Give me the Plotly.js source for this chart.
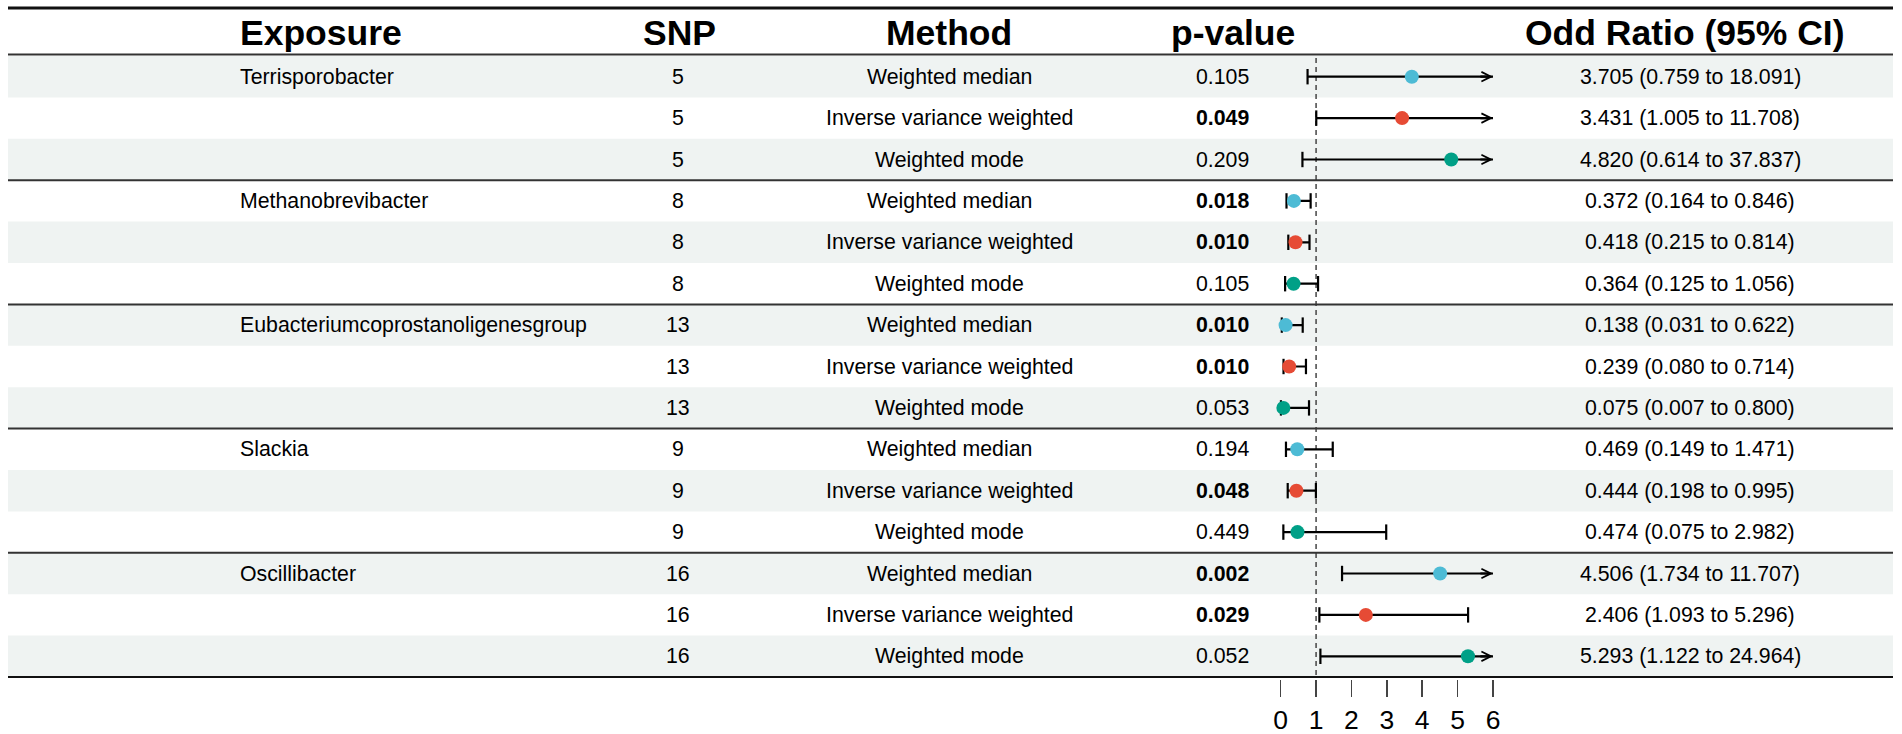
<!DOCTYPE html>
<html>
<head>
<meta charset="utf-8">
<script src="https://cdn.plot.ly/plotly-3.0.1.min.js"></script>
<style>html,body{margin:0;padding:0;background:#fff;}#chart{width:1902px;height:734px;}</style>
</head>
<body>
<div id="chart"></div>
<script>
// ---- data ----
const exposures = ["Terrisporobacter", "Methanobrevibacter", "Eubacteriumcoprostanoligenesgroup", "Slackia", "Oscillibacter"];
const methods = ["Weighted median", "Inverse variance weighted", "Weighted mode"];
const snps = [5, 5, 5, 8, 8, 8, 13, 13, 13, 9, 9, 9, 16, 16, 16];
const pvalues = [0.105, 0.049, 0.209, 0.018, 0.010, 0.105, 0.010, 0.010, 0.053, 0.194, 0.048, 0.449, 0.002, 0.029, 0.052];
const oddRatio = [3.705, 3.431, 4.820, 0.372, 0.418, 0.364, 0.138, 0.239, 0.075, 0.469, 0.444, 0.474, 4.506, 2.406, 5.293];
const ciLower = [0.759, 1.005, 0.614, 0.164, 0.215, 0.125, 0.031, 0.080, 0.007, 0.149, 0.198, 0.075, 1.734, 1.093, 1.122];
const ciUpper = [18.091, 11.708, 37.837, 0.846, 0.814, 1.056, 0.622, 0.714, 0.800, 1.471, 0.995, 2.982, 11.707, 5.296, 24.964];
const headers = ["Exposure", "SNP", "Method", "p-value", "Odd Ratio (95% CI)"];
const axisTicks = [0, 1, 2, 3, 4, 5, 6];
const methodColors = ["#4DBBD5", "#E64B35", "#00A087"];

// ---- layout constants ----
const W = 1902, H = 734;
const rowTop = 56, rowH = 41.4;
const xMax = 6;
const FONT = "Liberation Sans, Arial, Helvetica, sans-serif";
const px = v => v / W;               // pixel x -> paper
const py = v => 1 - v / H;           // pixel y -> paper
const yTopVal = (0 - rowTop) / rowH - 0.5;
const yBotVal = (H - rowTop) / rowH - 0.5;

const n = snps.length;
const rows = [...Array(n).keys()];
const methodOf = i => methods[i % 3];
const exposureOf = i => (i % 3 === 0 ? exposures[Math.floor(i / 3)] : "");

// ---- traces ----
const segX = [], segY = [];
rows.forEach(i => { segX.push(ciLower[i], Math.min(ciUpper[i], xMax), null); segY.push(i, i, null); });

const capX = [], capY = [];
rows.forEach(i => {
  capX.push(ciLower[i]); capY.push(i);
  if (ciUpper[i] <= xMax) { capX.push(ciUpper[i]); capY.push(i); }
});

const traces = [
  { type: "scatter", mode: "lines", x: segX, y: segY, line: { color: "#000", width: 2.2 }, cliponaxis: false, hoverinfo: "skip", showlegend: false },
  { type: "scatter", mode: "markers", x: capX, y: capY, marker: { symbol: "line-ns", size: 11, line: { color: "#000", width: 2.2 } }, cliponaxis: false, hoverinfo: "skip", showlegend: false },
  { type: "scatter", mode: "markers", x: oddRatio, y: rows,
    marker: { symbol: "circle", size: 14, color: rows.map(i => methodColors[i % 3]), line: { width: 0 } },
    cliponaxis: false, hoverinfo: "skip", showlegend: false }
];

// ---- shapes ----
const shapes = [];
rows.forEach(i => {
  if (i % 2 === 0) shapes.push({ type: "rect", xref: "paper", yref: "y", x0: px(8), x1: px(1893), y0: i - 0.5, y1: i + 0.5, fillcolor: "#eff3f2", line: { width: 0 }, layer: "below" });
});
shapes.push({ type: "line", xref: "paper", yref: "paper", x0: px(8), x1: px(1893), y0: py(8), y1: py(8), line: { color: "#111", width: 3 } });
shapes.push({ type: "line", xref: "paper", yref: "paper", x0: px(8), x1: px(1893), y0: py(54.5), y1: py(54.5), line: { color: "#333", width: 2 } });
[2.5, 5.5, 8.5, 11.5].forEach(v => shapes.push({ type: "line", xref: "paper", yref: "y", x0: px(8), x1: px(1893), y0: v, y1: v, line: { color: "#333", width: 2 } }));
shapes.push({ type: "line", xref: "paper", yref: "y", x0: px(8), x1: px(1893), y0: n - 0.5, y1: n - 0.5, line: { color: "#111", width: 2 } });
shapes.push({ type: "line", xref: "x", yref: "y", x0: 1, x1: 1, y0: -0.45, y1: n - 0.5, line: { color: "#444", width: 1.5, dash: "5px,4px" }, layer: "below" });

// ---- annotations (text columns) ----
const ann = [];
const bodyFont = { family: FONT, size: 21.3, color: "#000" };
const headFont = { family: FONT, size: 35.5, color: "#000" };
const headX = [238, 679.5, 949, 1233, 1684.5];
const headAnchor = ["left", "center", "center", "center", "center"];
headers.forEach((h, k) => ann.push({ xref: "paper", yref: "paper", x: px(headX[k]), y: py(33), xanchor: headAnchor[k], yanchor: "middle", text: "<b>" + h + "</b>", showarrow: false, font: headFont }));

rows.forEach(i => {
  const ex = exposureOf(i);
  if (ex) ann.push({ xref: "paper", yref: "y", x: px(238), y: i, xanchor: "left", yanchor: "middle", text: ex, showarrow: false, font: bodyFont });
  ann.push({ xref: "paper", yref: "y", x: px(678), y: i, xanchor: "center", yanchor: "middle", text: String(snps[i]), showarrow: false, font: bodyFont });
  ann.push({ xref: "paper", yref: "y", x: px(949), y: i, xanchor: "center", yanchor: "middle", text: methodOf(i), showarrow: false, font: bodyFont });
  const p = pvalues[i].toFixed(3);
  ann.push({ xref: "paper", yref: "y", x: px(1222), y: i, xanchor: "center", yanchor: "middle", text: pvalues[i] < 0.05 ? "<b>" + p + "</b>" : p, showarrow: false, font: bodyFont });
  const orTxt = oddRatio[i].toFixed(3) + " (" + ciLower[i].toFixed(3) + " to " + ciUpper[i].toFixed(3) + ")";
  ann.push({ xref: "paper", yref: "y", x: px(1690), y: i, xanchor: "center", yanchor: "middle", text: orTxt, showarrow: false, font: bodyFont });
  if (ciUpper[i] > xMax) {
    ann.push({ xref: "x", yref: "y", axref: "x", ayref: "y", x: xMax, y: i, ax: xMax - 0.4, ay: i, text: "", showarrow: true, arrowhead: 5, arrowsize: 0.85, arrowwidth: 2.2, arrowcolor: "#000" });
  }
});

const layout = {
  width: W, height: H,
  margin: { l: 0, r: 0, t: 0, b: 0, pad: 0 },
  paper_bgcolor: "#fff", plot_bgcolor: "rgba(0,0,0,0)",
  showlegend: false, hovermode: false,
  xaxis: {
    domain: [1280.7 / W, 1493.0 / W], range: [0, xMax], anchor: "free", position: py(679),
    showgrid: false, zeroline: false, showline: false,
    ticks: "outside", ticklen: 17, tickwidth: 1.5, tickcolor: "#444",
    tickmode: "array", tickvals: axisTicks, ticktext: axisTicks.map(String),
    tickfont: { family: FONT, size: 26.5, color: "#000" }, fixedrange: true
  },
  yaxis: { domain: [0, 1], range: [yBotVal, yTopVal], visible: false, fixedrange: true },
  shapes: shapes,
  annotations: ann
};

Plotly.newPlot("chart", traces, layout, { staticPlot: true, displayModeBar: false });
</script>
</body>
</html>
